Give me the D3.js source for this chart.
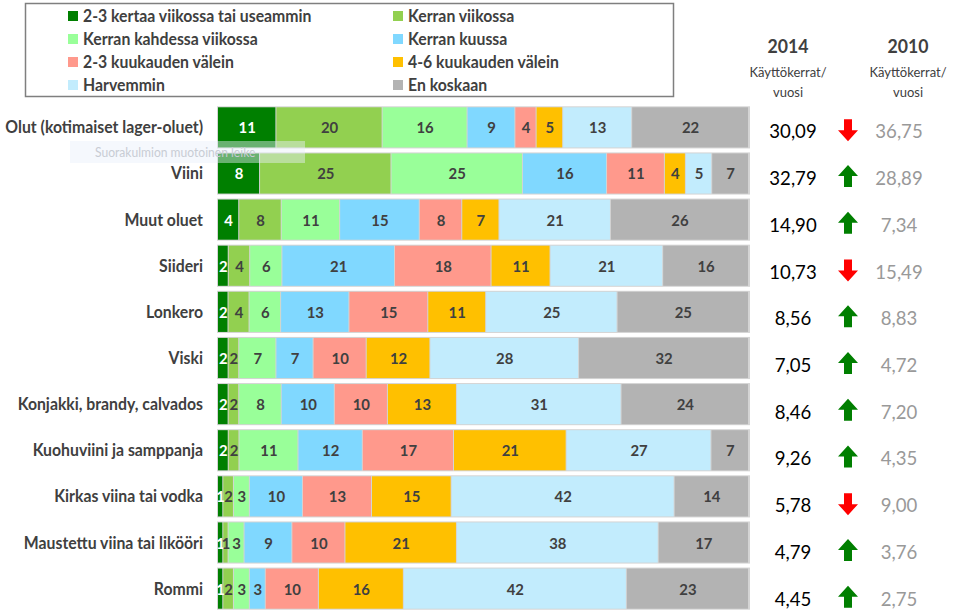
<!DOCTYPE html>
<html>
<head>
<meta charset="utf-8">
<script src="https://cdn.jsdelivr.net/npm/d3@7"></script>
<style>
  body { margin: 0; background: #fff; }
  svg { display: block; font-family: Lato, "Open Sans", sans-serif; }
</style>
</head>
<body>
<div id="chart"></div>
<script>
// --- data ---
const categories = [
  "Olut (kotimaiset lager-oluet)", "Viini", "Muut oluet", "Siideri", "Lonkero", "Viski",
  "Konjakki, brandy, calvados", "Kuohuviini ja samppanja", "Kirkas viina tai vodka",
  "Maustettu viina tai likööri", "Rommi"
];
const seriesNames = [
  "2-3 kertaa viikossa tai useammin", "Kerran viikossa", "Kerran kahdessa viikossa", "Kerran kuussa",
  "2-3 kuukauden välein", "4-6 kuukauden välein", "Harvemmin", "En koskaan"
];
const seriesColors = ["#007f00", "#92d050", "#99ff99", "#80d8ff", "#ff998c", "#ffc000", "#c2ecfd", "#b3b3b3"];
const values = [
  [11, 20, 16, 9, 4, 5, 13, 22],
  [8, 25, 25, 16, 11, 4, 5, 7],
  [4, 8, 11, 15, 8, 7, 21, 26],
  [2, 4, 6, 21, 18, 11, 21, 16],
  [2, 4, 6, 13, 15, 11, 25, 25],
  [2, 2, 7, 7, 10, 12, 28, 32],
  [2, 2, 8, 10, 10, 13, 31, 24],
  [2, 2, 11, 12, 17, 21, 27, 7],
  [1, 2, 3, 10, 13, 15, 42, 14],
  [1, 1, 3, 9, 10, 21, 38, 17],
  [1, 2, 3, 3, 10, 16, 42, 23]
];
const uses2014 = ["30,09", "32,79", "14,90", "10,73", "8,56", "7,05", "8,46", "9,26", "5,78", "4,79", "4,45"];
const uses2010 = ["36,75", "28,89", "7,34", "15,49", "8,83", "4,72", "7,20", "4,35", "9,00", "3,76", "2,75"];
const trend = ["down", "up", "up", "down", "up", "up", "up", "up", "down", "up", "up"];

const W = 957, H = 613;
const SQ = 0.93; // horizontal squeeze, the original uses a narrow font
const svg = d3.select("#chart").append("svg").attr("width", W).attr("height", H);

// place a text at (x,y) and squeeze it horizontally
function place(sel, fx, fy) {
  sel.attr("transform", (d, i) => `translate(${fx(d, i)},${fy(d, i)}) scale(${SQ},1)`);
}

// --- scales ---
const y = d3.scaleBand().domain(categories).range([105, 611]).paddingInner(0.13).paddingOuter(0.05);
const x = d3.scaleLinear().domain([0, 1]).range([218, 749]);

// stack each row normalised to 100 %
const rows = categories.map((c, i) => {
  const total = d3.sum(values[i]);
  let acc = 0;
  return values[i].map((v, j) => {
    const s = { cat: c, v, j, x0: acc / total, x1: (acc + v) / total };
    acc += v;
    return s;
  });
});

// --- bars ---
const gRows = svg.append("g").selectAll("g").data(rows).enter().append("g");

gRows.append("rect")
  .attr("x", x(0) - 1).attr("width", x(1) - x(0) + 2)
  .attr("y", (d, i) => y(categories[i]) - 1).attr("height", y.bandwidth() + 2)
  .attr("fill", "#d4d4d4");

gRows.selectAll("rect.seg").data(d => d).enter().append("rect")
  .attr("class", "seg")
  .attr("x", d => x(d.x0)).attr("width", d => Math.max(0, x(d.x1) - x(d.x0) - 1))
  .attr("y", d => y(d.cat)).attr("height", y.bandwidth())
  .attr("fill", d => seriesColors[d.j]);

gRows.selectAll("text.seg").data(d => d).enter().append("text")
  .attr("text-anchor", "middle")
  .attr("font-size", 16).attr("font-weight", "bold")
  .attr("fill", d => d.j === 0 ? "#fff" : "#404040")
  .text(d => d.v)
  .call(place, d => (x(d.x0) + x(d.x1)) / 2, d => y(d.cat) + y.bandwidth() / 2 + 6);

// category labels
svg.append("g").selectAll("text").data(categories).enter().append("text")
  .attr("text-anchor", "end").attr("font-size", 17).attr("font-weight", "bold")
  .attr("fill", "#404040").text(d => d)
  .call(place, () => 203, d => y(d) + y.bandwidth() / 2 + 6);

// --- right columns ---
const col2014 = 793, colArrow = 848, col2010 = 899;
const header = svg.append("g").attr("fill", "#404040").attr("text-anchor", "middle");
[[col2014 - 5, "2014"], [col2010 + 9, "2010"]].forEach(([cx, t]) => {
  header.append("text").attr("font-size", 19).attr("font-weight", "bold").text(t).call(place, () => cx, () => 53);
  header.append("text").attr("font-size", 14).text("Käyttökerrat/").call(place, () => cx, () => 77);
  header.append("text").attr("font-size", 14).text("vuosi").call(place, () => cx, () => 97);
});

const valY = (d, i) => y(categories[i]) + y.bandwidth() / 2 + 11 + i * 0.6;
svg.append("g").selectAll("text").data(uses2014).enter().append("text")
  .attr("text-anchor", "middle").attr("font-size", 20).attr("fill", "#000").text(d => d)
  .call(place, () => col2014, valY);
svg.append("g").selectAll("text").data(uses2010).enter().append("text")
  .attr("text-anchor", "middle").attr("font-size", 20).attr("fill", "#999").text(d => d)
  .call(place, () => col2010, valY);

// arrows
const arrowUp = "M0,-11 L10,0 L4,0 L4,11 L-4,11 L-4,0 L-10,0 Z";
svg.append("g").selectAll("path").data(trend).enter().append("path")
  .attr("transform", (d, i) => `translate(${colArrow},${valY(d, i) - 11 + (d === "down" ? 3 : 2)})` + (d === "down" ? " scale(1,-1)" : ""))
  .attr("d", arrowUp)
  .attr("fill", d => d === "down" ? "#ff0000" : "#007f00");

// --- legend ---
const leg = svg.append("g");
leg.append("rect").attr("x", 25.5).attr("y", 3.5).attr("width", 648).attr("height", 93)
  .attr("fill", "#fff").attr("stroke", "#7f7f7f").attr("stroke-width", 1.5);
const legItems = leg.selectAll("g").data(seriesNames).enter().append("g")
  .attr("transform", (d, i) => `translate(${i % 2 === 0 ? 68 : 393},${16 + Math.floor(i / 2) * 23})`);
legItems.append("rect").attr("x", 0).attr("y", -5).attr("width", 10).attr("height", 10)
  .attr("fill", (d, i) => seriesColors[i]);
legItems.append("text").attr("font-size", 17).attr("font-weight", "bold")
  .attr("fill", "#404040").text(d => d)
  .call(place, () => 15, () => 6);

// faint tooltip remnant over the chart
const ghost = svg.append("g");
ghost.append("rect").attr("x", 70).attr("y", 141).attr("width", 235).attr("height", 22)
  .attr("fill", "#e8f0fa").attr("opacity", 0.45);
ghost.append("text").attr("font-size", 13).attr("fill", "#c8ccd4")
  .text("Suorakulmion muotoinen leike")
  .call(place, () => 95, () => 157);
</script>
</body>
</html>
